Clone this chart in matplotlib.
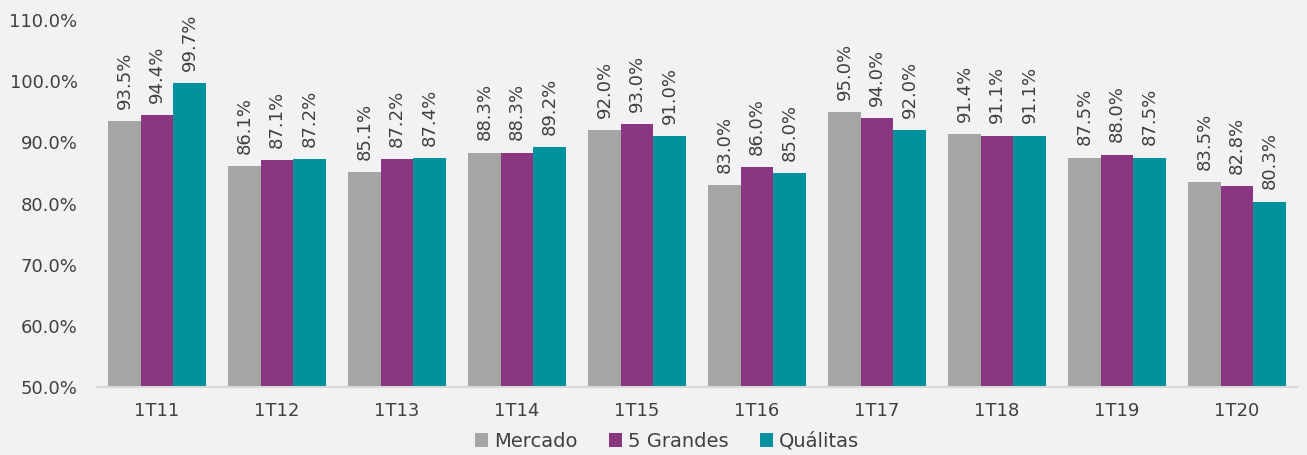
import matplotlib.pyplot as plt
import numpy as np

quarters = ["1T11", "1T12", "1T13", "1T14", "1T15", "1T16", "1T17", "1T18", "1T19", "1T20"]
mercado = [93.5, 86.1, 85.1, 88.3, 92.0, 83.0, 95.0, 91.4, 87.5, 83.5]
grandes = [94.4, 87.1, 87.2, 88.3, 93.0, 86.0, 94.0, 91.1, 88.0, 82.8]
qualitas = [99.7, 87.2, 87.4, 89.2, 91.0, 85.0, 92.0, 91.1, 87.5, 80.3]

series = [("Mercado", mercado, "#a5a5a5"),
          ("5 Grandes", grandes, "#8b3680"),
          ("Quálitas", qualitas, "#00929c")]

bg = "#f2f2f4"
txt = "#404040"
plt.rcParams["font.family"] = ["DejaVu Sans"]

fig = plt.figure(figsize=(13.07, 4.55), dpi=100, facecolor=bg)
ax = fig.add_axes([97 / 1307, 68 / 455, 1200 / 1307, 367 / 455], facecolor=bg)

x = np.arange(len(quarters))
w = 0.27
for i, (name, vals, color) in enumerate(series):
    pos = x + (i - 1) * w
    ax.bar(pos, vals, width=w, color=color, label=name, zorder=2)
    for p, v in zip(pos, vals):
        ax.text(p, v + 2.0, f"{v:.1f}%", rotation=90, ha="center", va="bottom",
                fontsize=13, color=txt)

ax.set_xlim(-0.5, len(quarters) - 0.5)
ax.set_ylim(50, 110)
ax.set_yticks(np.arange(50, 111, 10))
ax.set_yticklabels([f"{t:.1f}%" for t in np.arange(50, 111, 10)])
ax.set_xticks(x)
ax.set_xticklabels(quarters)
ax.tick_params(axis="both", length=0, labelsize=13, labelcolor=txt)
ax.tick_params(axis="y", pad=14)
ax.tick_params(axis="x", pad=11)
for s in ["top", "right", "left"]:
    ax.spines[s].set_visible(False)
ax.spines["bottom"].set_color("#d9d9d9")
ax.spines["bottom"].set_linewidth(1.5)

ax.legend(loc="lower center", bbox_to_anchor=(0.475, -0.195), ncol=3, frameon=False,
          fontsize=14, handlelength=0.7, handleheight=0.7, handletextpad=0.3,
          columnspacing=1.6, labelcolor=txt, borderaxespad=0)

fig.savefig("out.png", dpi=100, facecolor=bg)
